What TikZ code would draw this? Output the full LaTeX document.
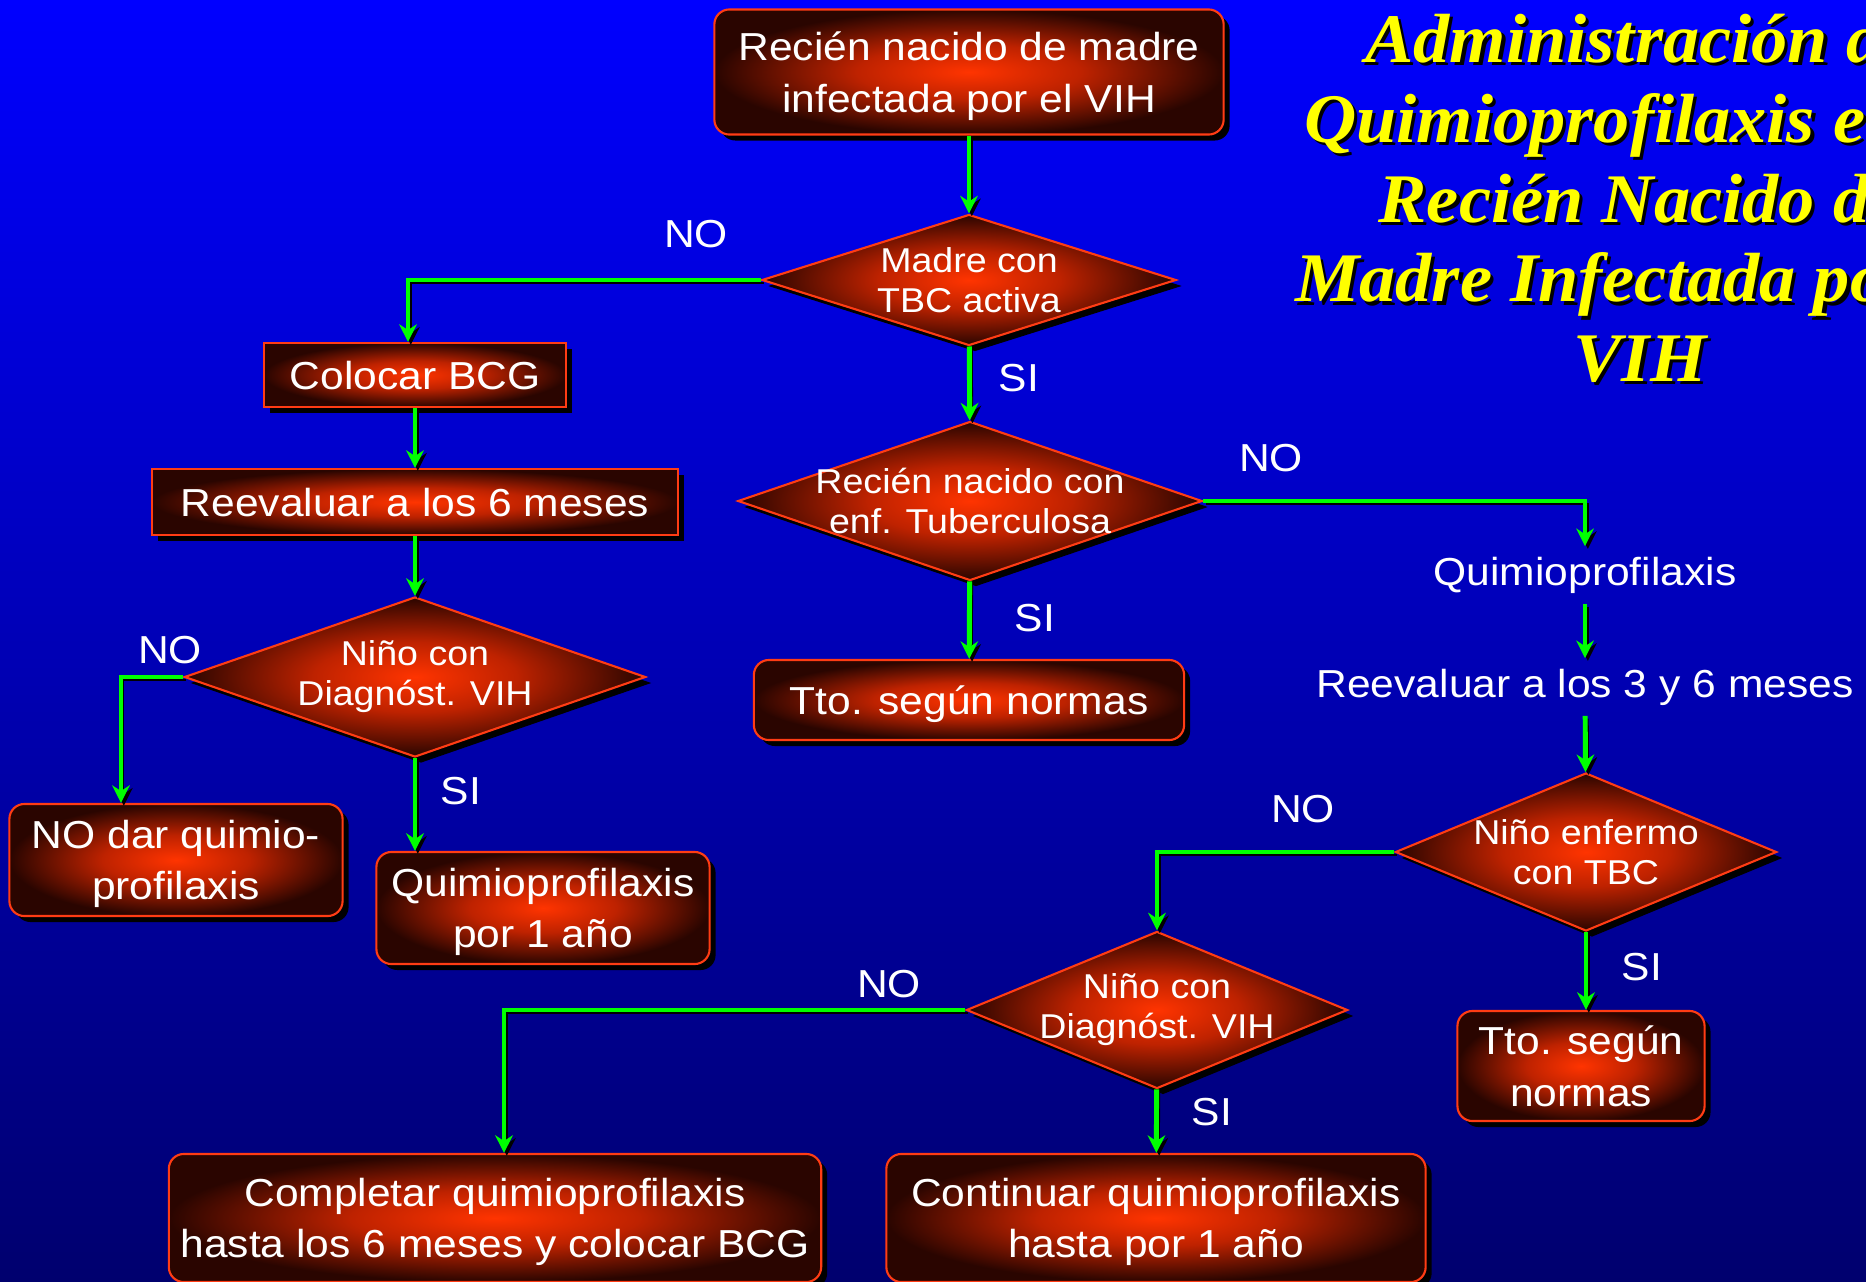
\documentclass[tikz,border=0pt]{standalone}
\usepackage{fontspec}
\setmainfont{Liberation Sans}[FakeStretch=1.09]
\newfontfamily\titlefont{Liberation Serif}[FakeStretch=1.04]
\usetikzlibrary{shapes.geometric,shadows,arrows.meta}
\definecolor{bgtop}{RGB}{0,0,255}
\definecolor{bgbot}{RGB}{0,0,110}
\definecolor{glowin}{RGB}{255,52,0}
\definecolor{glowmid}{RGB}{190,34,0}
\definecolor{glowout}{RGB}{42,5,0}
\definecolor{rim}{RGB}{255,60,20}
\definecolor{flowgreen}{RGB}{0,255,0}
\definecolor{titleyellow}{RGB}{255,255,0}
\pgfdeclareradialshading{glow}{\pgfpoint{0bp}{0bp}}{color(0bp)=(glowin); color(11bp)=(glowmid); color(25bp)=(glowout); color(50bp)=(glowout)}
\newcommand\shadowline[1]{\rlap{\kern0.9pt\raisebox{-0.9pt}{\color{black}#1}}#1}
\begin{document}
\begin{tikzpicture}[x=0.01cm,y=-0.01cm,>={Stealth[length=5pt,width=5pt]},
  box/.style={draw=rim,line width=0.6pt,shading=glow,text=white,align=center,inner sep=0pt,
    text depth=0pt,font=\fontsize{11.1}{14.6}\selectfont,
    drop shadow={shadow xshift=0.06cm,shadow yshift=-0.06cm,fill=black,opacity=1}},
  rbox/.style={box,rounded corners=0.15cm},
  decision/.style={box,diamond},
  dtext/.style={text=white,align=center,inner sep=0pt,font=\fontsize{9.8}{11.4}\selectfont},
  plain/.style={text=white,inner sep=0.1cm,font=\fontsize{11.1}{14.2}\selectfont},
  lbl/.style={text=white,inner sep=0pt,font=\fontsize{11.1}{14.2}\selectfont},
  flow/.style={->,flowgreen,line width=1.4pt,
    preaction={draw=black,transform canvas={shift={(0.8pt,-0.8pt)}}}}]
\useasboundingbox (0,0) rectangle (1866,1282);
\clip (0,0) rectangle (1866,1282);
\fill[top color=bgtop,bottom color=bgbot] (0,0) rectangle (1866,1282);
% title
\node[text=titleyellow,align=center,inner sep=0pt,
  font=\titlefont\bfseries\itshape\fontsize{19.8}{22.7}\selectfont] (title) at (1640,200)
  {\shadowline{Administración de}\\\shadowline{Quimioprofilaxis en el}\\\shadowline{Recién Nacido de}\\\shadowline{Madre Infectada por el}\\\shadowline{VIH}};
% nodes
\node[rbox,minimum width=5.09cm,minimum height=1.25cm] (start) at (969,72) {Recién nacido de madre\\infectada por el VIH};
\node[decision,minimum width=4.14cm,minimum height=1.31cm,label={[dtext]center:{Madre con\\TBC activa}}] (d1) at (969,280) {};
\node[box,minimum width=3.02cm,minimum height=0.64cm] (bcg) at (415,375) {Colocar BCG};
\node[box,minimum width=5.26cm,minimum height=0.66cm] (reev6) at (415,502) {Reevaluar a los 6 meses};
\node[decision,minimum width=4.61cm,minimum height=1.60cm,label={[dtext]center:{Niño con\\Diagnóst. VIH}}] (d3) at (415,677) {};
\node[rbox,minimum width=3.33cm,minimum height=1.12cm] (nodar) at (176,860) {NO dar quimio-\\profilaxis};
\node[rbox,minimum width=3.33cm,minimum height=1.12cm] (quim1) at (543,908) {Quimioprofilaxis\\por 1 año};
\node[decision,minimum width=4.64cm,minimum height=1.59cm,label={[dtext]center:{Recién nacido con\\enf. Tuberculosa}}] (d2) at (970,501) {};
\node[rbox,minimum width=4.30cm,minimum height=0.80cm] (tto1) at (969,700) {Tto. según normas};
\node[plain] (quimT) at (1585,575) {Quimioprofilaxis};
\node[plain] (reev36) at (1585,687) {Reevaluar a los 3 y 6 meses};
\node[decision,minimum width=3.81cm,minimum height=1.58cm,label={[dtext]center:{Niño enfermo\\con TBC}}] (d4) at (1586,852) {};
\node[rbox,minimum width=2.47cm,minimum height=1.10cm] (tto2) at (1581,1066) {Tto. según\\normas};
\node[decision,minimum width=3.81cm,minimum height=1.57cm,label={[dtext]center:{Niño con\\Diagnóst. VIH}}] (d5) at (1157,1010) {};
\node[rbox,minimum width=6.52cm,minimum height=1.28cm] (comp) at (495,1218) {Completar quimioprofilaxis\\hasta los 6 meses y colocar BCG};
\node[rbox,minimum width=5.39cm,minimum height=1.28cm] (cont) at (1156,1218) {Continuar quimioprofilaxis\\hasta por 1 año};
% connectors
\draw[flow] (start) -- (d1);
\draw[flow] (d1.west) -| ([xshift=-0.07cm]bcg.north);
\draw[flow] (d1) -- (d2);
\draw[flow] (bcg) -- (reev6);
\draw[flow] (reev6) -- (d3);
\draw[flow] (d3.west) -| ([xshift=-0.55cm]nodar.north);
\draw[flow] (d3.south) -- (d3.south |- quim1.north);
\draw[flow] (d2.east) -| (quimT.north);
\draw[flow] (d2) -- (tto1);
\draw[flow] (quimT) -- (reev36);
\draw[flow] (reev36) -- (d4);
\draw[flow] (d4.west) -| (d5.north);
\draw[flow] (d4.south) -- (d4.south |- tto2.north);
\draw[flow] (d5.west) -| ([xshift=0.09cm]comp.north);
\draw[flow] (d5) -- (cont);
% labels
\node[lbl] (no1) at (696,234) {NO};
\node[lbl] (si1) at (1019,378) {SI};
\node[lbl] (no2) at (170,650) {NO};
\node[lbl] (si2) at (461,791) {SI};
\node[lbl] (no3) at (1271,458) {NO};
\node[lbl] (si3) at (1035,618) {SI};
\node[lbl] (no4) at (1303,809) {NO};
\node[lbl] (si4) at (1642,967) {SI};
\node[lbl] (no5) at (889,984) {NO};
\node[lbl] (si5) at (1212,1112) {SI};
\end{tikzpicture}
\end{document}
